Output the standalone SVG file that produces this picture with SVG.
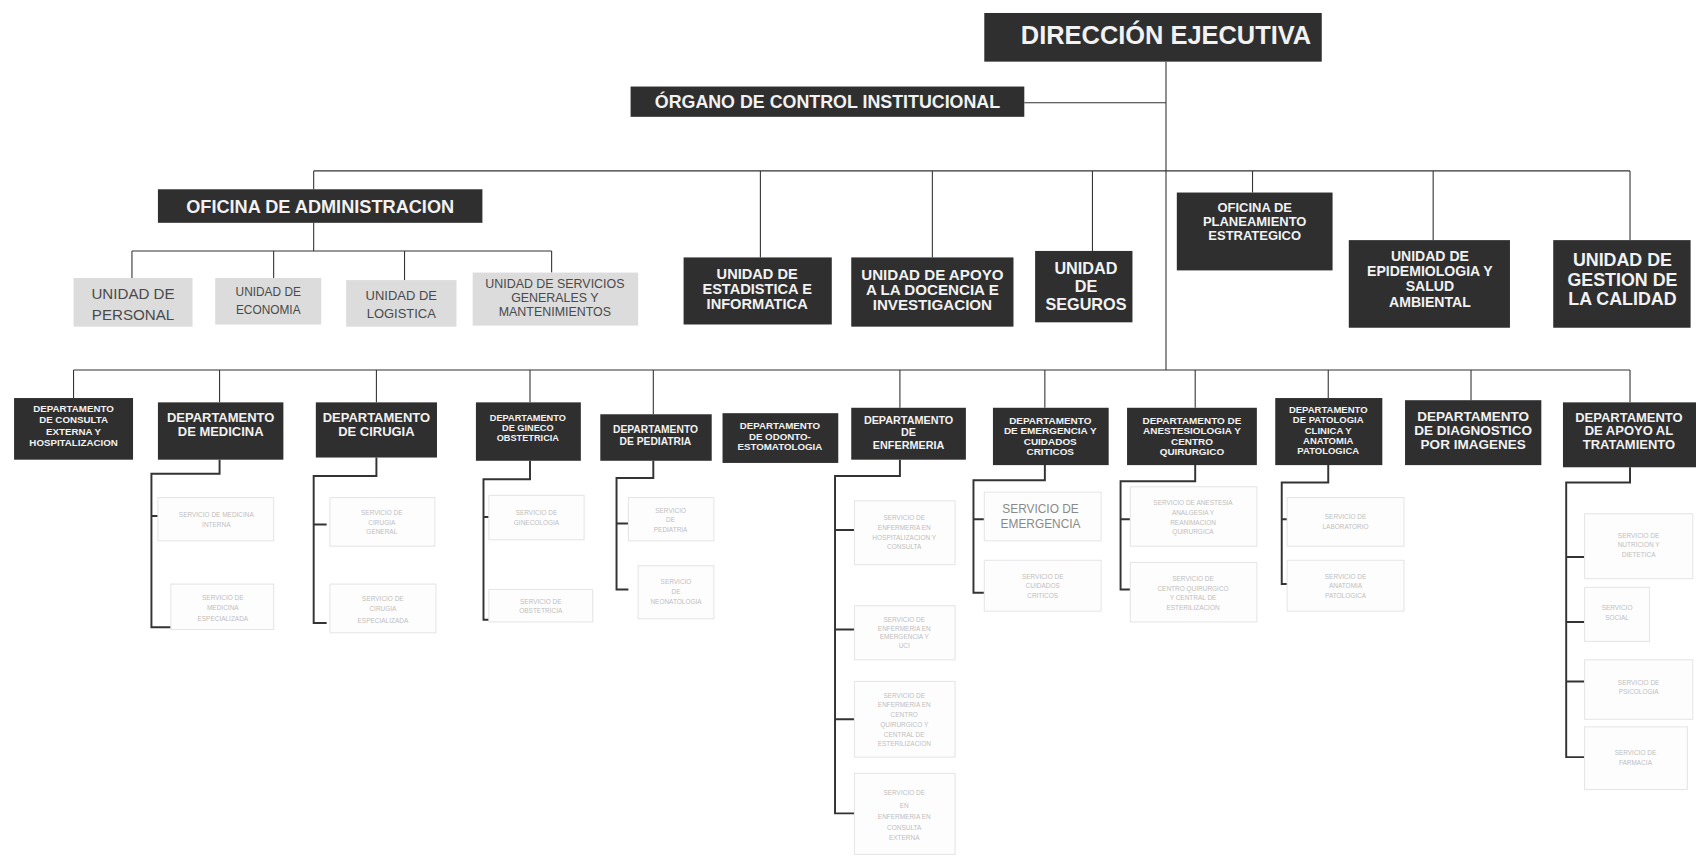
<svg xmlns="http://www.w3.org/2000/svg" width="1696" height="860" viewBox="0 0 1696 860">
<style>
.d{fill:#2f2f2f}
.g{fill:#dcdcdc}
.s{fill:#fdfdfd;stroke:#e6e6e6;stroke-width:1}
.t{font-family:"Liberation Sans",Arial,sans-serif;font-weight:bold;fill:#f2f2f2;text-anchor:middle}
.tg{font-family:"Liberation Sans",Arial,sans-serif;fill:#4a4a4a;text-anchor:middle}
.ts{font-family:"Liberation Sans",Arial,sans-serif;fill:#bdbdbd;text-anchor:middle;font-size:6px}
.l{stroke:#333;stroke-width:1;fill:none}
.k{stroke:#333;stroke-width:1.8;fill:none}
</style>
<rect width="1696" height="860" fill="#ffffff"/>
<g transform="scale(1.08163)">
<g id="connectors">
<path class="l" d="M1078 57V342M947 95H1078M290 158H1507M290 158V175M703 158V238M862 158V238M1010 158V232M1158 158V178M1325 158V222M1507 158V222"/>
<path class="l" d="M290 206V232M122 232H510M122 232V257M253 232V257M374 232V259M510 232V252"/>
<path class="l" d="M68 342H1507M68 342V368M203 342V372M348 342V372M490 342V372M604 342V383M832 342V377M966 342V377M1105 342V377M1228 342V368M1360 342V370M1507 342V372"/>
<path class="k" d="M203 425V438H140V580H158M140 477H150"/>
<path class="k" d="M348 423V440H290V576H302M290 485H302"/>
<path class="k" d="M490 426V443H447V573H455M447 478H455"/>
<path class="k" d="M604 426V442H570V545H581M570 484H581"/>
<path class="k" d="M832 425V440H772V752H790M772 490H790M772 582H790M772 665H790"/>
<path class="k" d="M966 430V444H900V548H910M900 480H910"/>
<path class="k" d="M1105 430V445H1036V545H1045M1036 480H1045"/>
<path class="k" d="M1228 430V446H1185V540H1192M1185 480H1192"/>
<path class="k" d="M1507 432V446H1448V700H1465M1448 515H1465M1448 575H1465M1448 630H1465"/>
</g>
<g id="direccion"><rect class="d" x="910" y="12" width="312" height="45"/><text class="t" x="1078" y="41" font-size="23.5">DIRECCIÓN EJECUTIVA</text></g>
<g id="oci"><rect class="d" x="583" y="80" width="364" height="28"/><text class="t" x="765" y="100" font-size="16.5">ÓRGANO DE CONTROL INSTITUCIONAL</text></g>
<g id="oficina-admin"><rect class="d" x="146" y="175" width="300" height="31"/><text class="t" x="296" y="197" font-size="16.8">OFICINA DE ADMINISTRACION</text></g>
<g id="u-estadistica"><rect class="d" x="632" y="238" width="137" height="62"/><text class="t" font-size="13.5"><tspan x="700" y="258">UNIDAD DE</tspan><tspan x="700" y="272">ESTADISTICA E</tspan><tspan x="700" y="286">INFORMATICA</tspan></text></g>
<g id="u-docencia"><rect class="d" x="787" y="238" width="150" height="64"/><text class="t" font-size="14"><tspan x="862" y="259">UNIDAD DE APOYO</tspan><tspan x="862" y="273">A LA DOCENCIA E</tspan><tspan x="862" y="287">INVESTIGACION</tspan></text></g>
<g id="u-seguros"><rect class="d" x="957" y="232" width="90" height="66"/><text class="t" font-size="15"><tspan x="1004" y="253">UNIDAD</tspan><tspan x="1004" y="270">DE</tspan><tspan x="1004" y="287">SEGUROS</tspan></text></g>
<g id="o-planeamiento"><rect class="d" x="1088" y="178" width="144" height="72"/><text class="t" font-size="12"><tspan x="1160" y="196">OFICINA DE</tspan><tspan x="1160" y="209">PLANEAMIENTO</tspan><tspan x="1160" y="222">ESTRATEGICO</tspan></text></g>
<g id="u-epidemiologia"><rect class="d" x="1247" y="222" width="149" height="81"/><text class="t" font-size="13"><tspan x="1322" y="241">UNIDAD DE</tspan><tspan x="1322" y="255">EPIDEMIOLOGIA Y</tspan><tspan x="1322" y="269">SALUD</tspan><tspan x="1322" y="284">AMBIENTAL</tspan></text></g>
<g id="u-calidad"><rect class="d" x="1436" y="222" width="127" height="81"/><text class="t" font-size="16.5"><tspan x="1500" y="246">UNIDAD DE</tspan><tspan x="1500" y="264">GESTION DE</tspan><tspan x="1500" y="282">LA CALIDAD</tspan></text></g>
<g id="u-personal"><rect class="g" x="68" y="257" width="110" height="45"/><text class="tg" font-size="14"><tspan x="123" y="276">UNIDAD DE</tspan><tspan x="123" y="296">PERSONAL</tspan></text></g>
<g id="u-economia"><rect class="g" x="199" y="257" width="98" height="43"/><text class="tg" font-size="11"><tspan x="248" y="274">UNIDAD DE</tspan><tspan x="248" y="290">ECONOMIA</tspan></text></g>
<g id="u-logistica"><rect class="g" x="320" y="259" width="102" height="43"/><text class="tg" font-size="12"><tspan x="371" y="277">UNIDAD DE</tspan><tspan x="371" y="294">LOGISTICA</tspan></text></g>
<g id="u-servicios"><rect class="g" x="437" y="252" width="153" height="49"/><text class="tg" font-size="11.5"><tspan x="513" y="266">UNIDAD DE SERVICIOS</tspan><tspan x="513" y="279">GENERALES Y</tspan><tspan x="513" y="292">MANTENIMIENTOS</tspan></text></g>
<g id="d-consulta"><rect class="d" x="13" y="368" width="110" height="57"/><text class="t" font-size="9"><tspan x="68" y="381">DEPARTAMENTO</tspan><tspan x="68" y="391.5">DE CONSULTA</tspan><tspan x="68" y="402">EXTERNA Y</tspan><tspan x="68" y="412.5">HOSPITALIZACION</tspan></text></g>
<g id="d-medicina"><rect class="d" x="146" y="372" width="116" height="53"/><text class="t" font-size="12"><tspan x="204" y="390">DEPARTAMENTO</tspan><tspan x="204" y="403">DE MEDICINA</tspan></text></g>
<g id="d-cirugia"><rect class="d" x="292" y="372" width="112" height="51"/><text class="t" font-size="12"><tspan x="348" y="390">DEPARTAMENTO</tspan><tspan x="348" y="403">DE CIRUGIA</tspan></text></g>
<g id="d-gineco"><rect class="d" x="440" y="372" width="97" height="54"/><text class="t" font-size="8.5"><tspan x="488" y="389">DEPARTAMENTO</tspan><tspan x="488" y="398.5">DE GINECO</tspan><tspan x="488" y="408">OBSTETRICIA</tspan></text></g>
<g id="d-pediatria"><rect class="d" x="555" y="383" width="103" height="43"/><text class="t" font-size="9.5"><tspan x="606" y="400">DEPARTAMENTO</tspan><tspan x="606" y="411">DE PEDIATRIA</tspan></text></g>
<g id="d-odonto"><rect class="d" x="668" y="382" width="107" height="46"/><text class="t" font-size="9"><tspan x="721" y="397">DEPARTAMENTO</tspan><tspan x="721" y="406.5">DE ODONTO-</tspan><tspan x="721" y="416">ESTOMATOLOGIA</tspan></text></g>
<g id="d-enfermeria"><rect class="d" x="787" y="377" width="106" height="48"/><text class="t" font-size="10"><tspan x="840" y="392">DEPARTAMENTO</tspan><tspan x="840" y="403.5">DE</tspan><tspan x="840" y="415">ENFERMERIA</tspan></text></g>
<g id="d-emergencia"><rect class="d" x="918" y="377" width="107" height="53"/><text class="t" font-size="9.2"><tspan x="971" y="392">DEPARTAMENTO</tspan><tspan x="971" y="401.5">DE EMERGENCIA Y</tspan><tspan x="971" y="411">CUIDADOS</tspan><tspan x="971" y="420.5">CRITICOS</tspan></text></g>
<g id="d-anestesiologia"><rect class="d" x="1042" y="377" width="120" height="53"/><text class="t" font-size="9.2"><tspan x="1102" y="392">DEPARTAMENTO DE</tspan><tspan x="1102" y="401.5">ANESTESIOLOGIA Y</tspan><tspan x="1102" y="411">CENTRO</tspan><tspan x="1102" y="420.5">QUIRURGICO</tspan></text></g>
<g id="d-patologia"><rect class="d" x="1179" y="368" width="99" height="62"/><text class="t" font-size="8.8"><tspan x="1228" y="382">DEPARTAMENTO</tspan><tspan x="1228" y="391.5">DE PATOLOGIA</tspan><tspan x="1228" y="401">CLINICA Y</tspan><tspan x="1228" y="410.5">ANATOMIA</tspan><tspan x="1228" y="420">PATOLOGICA</tspan></text></g>
<g id="d-imagenes"><rect class="d" x="1299" y="370" width="126" height="60"/><text class="t" font-size="12.5"><tspan x="1362" y="389">DEPARTAMENTO</tspan><tspan x="1362" y="402">DE DIAGNOSTICO</tspan><tspan x="1362" y="415">POR IMAGENES</tspan></text></g>
<g id="d-apoyo"><rect class="d" x="1445" y="372" width="123" height="60"/><text class="t" font-size="12"><tspan x="1506" y="390">DEPARTAMENTO</tspan><tspan x="1506" y="402.5">DE APOYO AL</tspan><tspan x="1506" y="415">TRATAMIENTO</tspan></text></g>
<g id="s-med1"><rect class="s" x="146" y="460" width="107" height="40"/><text class="ts"><tspan x="200" y="478">SERVICIO DE MEDICINA</tspan><tspan x="200" y="487">INTERNA</tspan></text></g>
<g id="s-med2"><rect class="s" x="158" y="540" width="95" height="42"/><text class="ts"><tspan x="206" y="555">SERVICIO DE</tspan><tspan x="206" y="564">MEDICINA</tspan><tspan x="206" y="574">ESPECIALIZADA</tspan></text></g>
<g id="s-cir1"><rect class="s" x="305" y="460" width="97" height="45"/><text class="ts"><tspan x="353" y="476">SERVICIO DE</tspan><tspan x="353" y="485">CIRUGIA</tspan><tspan x="353" y="494">GENERAL</tspan></text></g>
<g id="s-cir2"><rect class="s" x="305" y="540" width="98" height="45"/><text class="ts"><tspan x="354" y="556">SERVICIO DE</tspan><tspan x="354" y="565">CIRUGIA</tspan><tspan x="354" y="576">ESPECIALIZADA</tspan></text></g>
<g id="s-gin1"><rect class="s" x="452" y="458" width="88" height="41"/><text class="ts"><tspan x="496" y="476">SERVICIO DE</tspan><tspan x="496" y="485">GINECOLOGIA</tspan></text></g>
<g id="s-gin2"><rect class="s" x="452" y="545" width="96" height="30"/><text class="ts"><tspan x="500" y="558">SERVICIO DE</tspan><tspan x="500" y="567">OBSTETRICIA</tspan></text></g>
<g id="s-ped1"><rect class="s" x="581" y="460" width="79" height="40"/><text class="ts"><tspan x="620" y="474">SERVICIO</tspan><tspan x="620" y="483">DE</tspan><tspan x="620" y="492">PEDIATRIA</tspan></text></g>
<g id="s-ped2"><rect class="s" x="590" y="523" width="70" height="49"/><text class="ts"><tspan x="625" y="540">SERVICIO</tspan><tspan x="625" y="549">DE</tspan><tspan x="625" y="558">NEONATOLOGIA</tspan></text></g>
<g id="s-enf1"><rect class="s" x="790" y="463" width="93" height="59"/><text class="ts"><tspan x="836" y="481">SERVICIO DE</tspan><tspan x="836" y="490">ENFERMERIA EN</tspan><tspan x="836" y="499">HOSPITALIZACION Y</tspan><tspan x="836" y="508">CONSULTA</tspan></text></g>
<g id="s-enf2"><rect class="s" x="790" y="560" width="93" height="50"/><text class="ts"><tspan x="836" y="575">SERVICIO DE</tspan><tspan x="836" y="583">ENFERMERIA EN</tspan><tspan x="836" y="591">EMERGENCIA Y</tspan><tspan x="836" y="599">UCI</tspan></text></g>
<g id="s-enf3"><rect class="s" x="790" y="630" width="93" height="70"/><text class="ts"><tspan x="836" y="645">SERVICIO DE</tspan><tspan x="836" y="654">ENFERMERIA EN</tspan><tspan x="836" y="663">CENTRO</tspan><tspan x="836" y="672">QUIRURGICO Y</tspan><tspan x="836" y="681">CENTRAL DE</tspan><tspan x="836" y="690">ESTERILIZACION</tspan></text></g>
<g id="s-enf4"><rect class="s" x="790" y="715" width="93" height="75"/><text class="ts"><tspan x="836" y="735">SERVICIO DE</tspan><tspan x="836" y="747">EN</tspan><tspan x="836" y="757">ENFERMERIA EN</tspan><tspan x="836" y="767">CONSULTA</tspan><tspan x="836" y="777">EXTERNA</tspan></text></g>
<g id="s-eme1"><rect class="s" x="910" y="455" width="108" height="45"/><text class="tg" font-size="11" style="fill:#8a8a8a"><tspan x="962" y="474">SERVICIO DE</tspan><tspan x="962" y="488">EMERGENCIA</tspan></text></g>
<g id="s-eme2"><rect class="s" x="910" y="518" width="108" height="47"/><text class="ts"><tspan x="964" y="535">SERVICIO DE</tspan><tspan x="964" y="544">CUIDADOS</tspan><tspan x="964" y="553">CRITICOS</tspan></text></g>
<g id="s-ane1"><rect class="s" x="1045" y="450" width="117" height="55"/><text class="ts"><tspan x="1103" y="467">SERVICIO DE ANESTESIA</tspan><tspan x="1103" y="476">ANALGESIA Y</tspan><tspan x="1103" y="485">REANIMACION</tspan><tspan x="1103" y="494">QUIRURGICA</tspan></text></g>
<g id="s-ane2"><rect class="s" x="1045" y="520" width="117" height="55"/><text class="ts"><tspan x="1103" y="537">SERVICIO DE</tspan><tspan x="1103" y="546">CENTRO QUIRURGICO</tspan><tspan x="1103" y="555">Y CENTRAL DE</tspan><tspan x="1103" y="564">ESTERILIZACION</tspan></text></g>
<g id="s-pat1"><rect class="s" x="1190" y="460" width="108" height="45"/><text class="ts"><tspan x="1244" y="480">SERVICIO DE</tspan><tspan x="1244" y="489">LABORATORIO</tspan></text></g>
<g id="s-pat2"><rect class="s" x="1190" y="518" width="108" height="47"/><text class="ts"><tspan x="1244" y="535">SERVICIO DE</tspan><tspan x="1244" y="544">ANATOMIA</tspan><tspan x="1244" y="553">PATOLOGICA</tspan></text></g>
<g id="s-apo1"><rect class="s" x="1465" y="475" width="100" height="60"/><text class="ts"><tspan x="1515" y="497">SERVICIO DE</tspan><tspan x="1515" y="506">NUTRICION Y</tspan><tspan x="1515" y="515">DIETETICA</tspan></text></g>
<g id="s-apo2"><rect class="s" x="1465" y="543" width="60" height="50"/><text class="ts"><tspan x="1495" y="564">SERVICIO</tspan><tspan x="1495" y="573">SOCIAL</tspan></text></g>
<g id="s-apo3"><rect class="s" x="1465" y="610" width="100" height="55"/><text class="ts"><tspan x="1515" y="633">SERVICIO DE</tspan><tspan x="1515" y="642">PSICOLOGIA</tspan></text></g>
<g id="s-apo4"><rect class="s" x="1465" y="672" width="95" height="58"/><text class="ts"><tspan x="1512" y="698">SERVICIO DE</tspan><tspan x="1512" y="707">FARMACIA</tspan></text></g>
</g>
</svg>
